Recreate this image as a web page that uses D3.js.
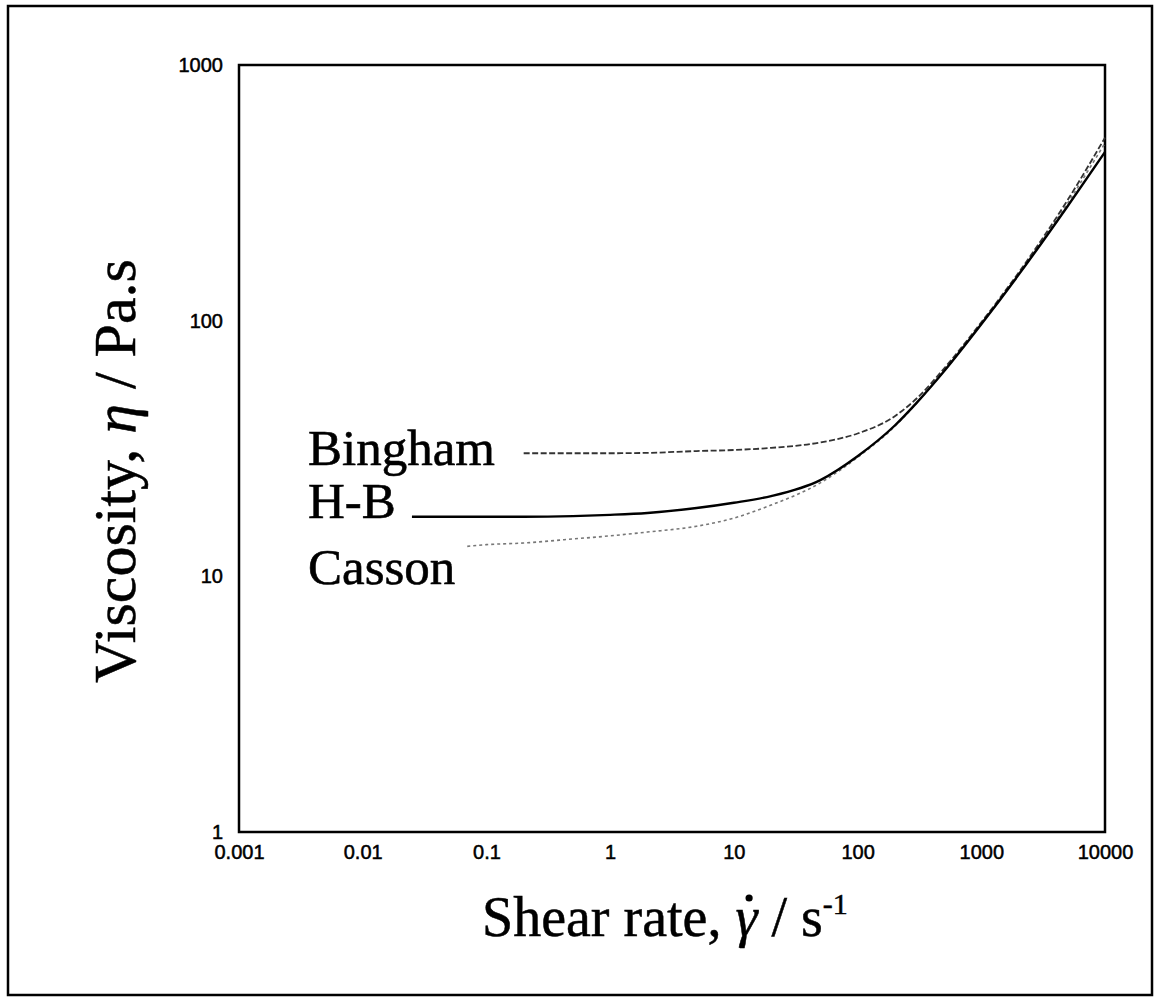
<!DOCTYPE html>
<html>
<head>
<meta charset="utf-8">
<script src="https://cdn.jsdelivr.net/npm/d3@7"></script>
<style>
  html, body { margin: 0; padding: 0; background: #fff; }
  svg { display: block; }
</style>
</head>
<body>
<svg id="chart" width="1159" height="1001"></svg>
<script>
// ---- data ----
const xTickValues = [0.001, 0.01, 0.1, 1, 10, 100, 1000, 10000];
const xTickLabels = ["0.001", "0.01", "0.1", "1", "10", "100", "1000", "10000"];
const yTickValues = [1, 10, 100, 1000];
const yTickLabels = ["1", "10", "100", "1000"];

const hbRate = [0.025, 0.05, 0.1, 0.2, 0.5, 1, 2, 5, 10, 20, 50, 100, 200, 300, 500, 1000, 2000, 5000, 10000];
const hbVisc = [17.1, 17.1, 17.1, 17.1, 17.2, 17.4, 17.7, 18.5, 19.4, 20.6, 23.8, 29.5, 38.9, 47.7, 63.4, 96.8, 151, 281, 457];

const binghamRate = [0.2, 0.5, 1, 2, 5, 10, 20, 50, 100, 200, 300, 500, 1000, 2000, 5000, 10000];
const binghamVisc = [30.3, 30.3, 30.3, 30.4, 30.9, 31.2, 31.8, 33.4, 36.2, 42.3, 49.6, 65.0, 98.5, 154, 297, 520];

const cassonRate = [0.07, 0.1, 0.2, 0.5, 1, 2, 5, 10, 20, 50, 100, 200, 300, 500, 1000, 2000, 5000, 10000];
const cassonVisc = [13.1, 13.3, 13.5, 14.0, 14.4, 14.9, 15.7, 16.9, 19.0, 23.2, 29.2, 38.6, 47.6, 63.6, 97.5, 152, 289, 495];

const seriesNames = ["Bingham", "H-B", "Casson"];

// ---- drawing ----
const svg = d3.select("#chart");
const x = d3.scaleLog().domain([0.001, 10000]).range([239, 1105]);
const y = d3.scaleLog().domain([1, 1000]).range([832, 65]);

// outer border
svg.append("rect")
  .attr("x", 8).attr("y", 6).attr("width", 1144).attr("height", 989)
  .attr("fill", "none").attr("stroke", "#000").attr("stroke-width", 2.5);

// axes
const xAxis = d3.axisBottom(x).tickValues(xTickValues)
  .tickFormat((d, i) => xTickLabels[i]).tickSize(0).tickPadding(13);
const yAxis = d3.axisLeft(y).tickValues(yTickValues)
  .tickFormat((d, i) => yTickLabels[i]).tickSize(0).tickPadding(16);

const gx = svg.append("g").attr("transform", "translate(0,832)").call(xAxis);
const gy = svg.append("g").attr("transform", "translate(239,0)").call(yAxis);
[gx, gy].forEach(g => {
  g.select(".domain").remove();
  g.selectAll("text")
    .attr("font-family", "'Liberation Sans', Arial, sans-serif")
    .attr("font-size", 20)
    .attr("fill", "#000")
    .attr("stroke", "#000").attr("stroke-width", 0.5);
});

// plot frame
svg.append("rect")
  .attr("x", x(0.001)).attr("y", y(1000))
  .attr("width", x(10000) - x(0.001)).attr("height", y(1) - y(1000))
  .attr("fill", "none").attr("stroke", "#000").attr("stroke-width", 2.5);

const line = d3.line().x(d => x(d[0])).y(d => y(d[1])).curve(d3.curveMonotoneX);

// Casson (light dotted)
svg.append("path")
  .datum(cassonRate.map((r, i) => [r, cassonVisc[i]]))
  .attr("d", line).attr("fill", "none")
  .attr("stroke", "#777").attr("stroke-width", 1.6)
  .attr("stroke-dasharray", "3,3");

// Bingham (dashed)
svg.append("path")
  .datum(binghamRate.map((r, i) => [r, binghamVisc[i]]))
  .attr("d", line).attr("fill", "none")
  .attr("stroke", "#333").attr("stroke-width", 1.8)
  .attr("stroke-dasharray", "6,2.5");

// H-B (solid)
svg.append("path")
  .datum(hbRate.map((r, i) => [r, hbVisc[i]]))
  .attr("d", line).attr("fill", "none")
  .attr("stroke", "#000").attr("stroke-width", 2.4);

// series labels
const labelFont = "'Liberation Serif', 'Times New Roman', serif";
const labelPos = [[308, 465], [308, 518], [308, 584]];
seriesNames.forEach((name, i) => {
  svg.append("text")
    .attr("x", labelPos[i][0]).attr("y", labelPos[i][1])
    .attr("font-family", labelFont).attr("font-size", 51)
    .attr("fill", "#000").attr("stroke", "#000").attr("stroke-width", 0.6)
    .text(name);
});

// x-axis title
const xt = svg.append("text")
  .attr("x", 482).attr("y", 936)
  .attr("font-family", labelFont).attr("font-size", 56).attr("fill", "#000")
  .attr("stroke", "#000").attr("stroke-width", 0.5);
xt.append("tspan").text("Shear rate, ");
xt.append("tspan").attr("font-style", "italic").text("γ");
xt.append("tspan").text(" / s");
xt.append("tspan").attr("font-size", 30).attr("dy", -22).text("-1");
// dot accent over gamma (shear-rate notation)
const gIdx = "Shear rate, ".length;
const ext = xt.node().getExtentOfChar(gIdx);
svg.append("circle")
  .attr("cx", ext.x + ext.width * 0.62)
  .attr("cy", 936 - 38)
  .attr("r", 3.6).attr("fill", "#000");

// y-axis title
const yt = svg.append("text")
  .attr("transform", "translate(135,471) rotate(-90)")
  .attr("text-anchor", "middle")
  .attr("font-family", labelFont).attr("font-size", 60).attr("fill", "#000")
  .attr("stroke", "#000").attr("stroke-width", 0.5);
yt.append("tspan").text("Viscosity, ");
yt.append("tspan").attr("font-style", "italic").text("η");
yt.append("tspan").text(" / Pa.s");
</script>
</body>
</html>
